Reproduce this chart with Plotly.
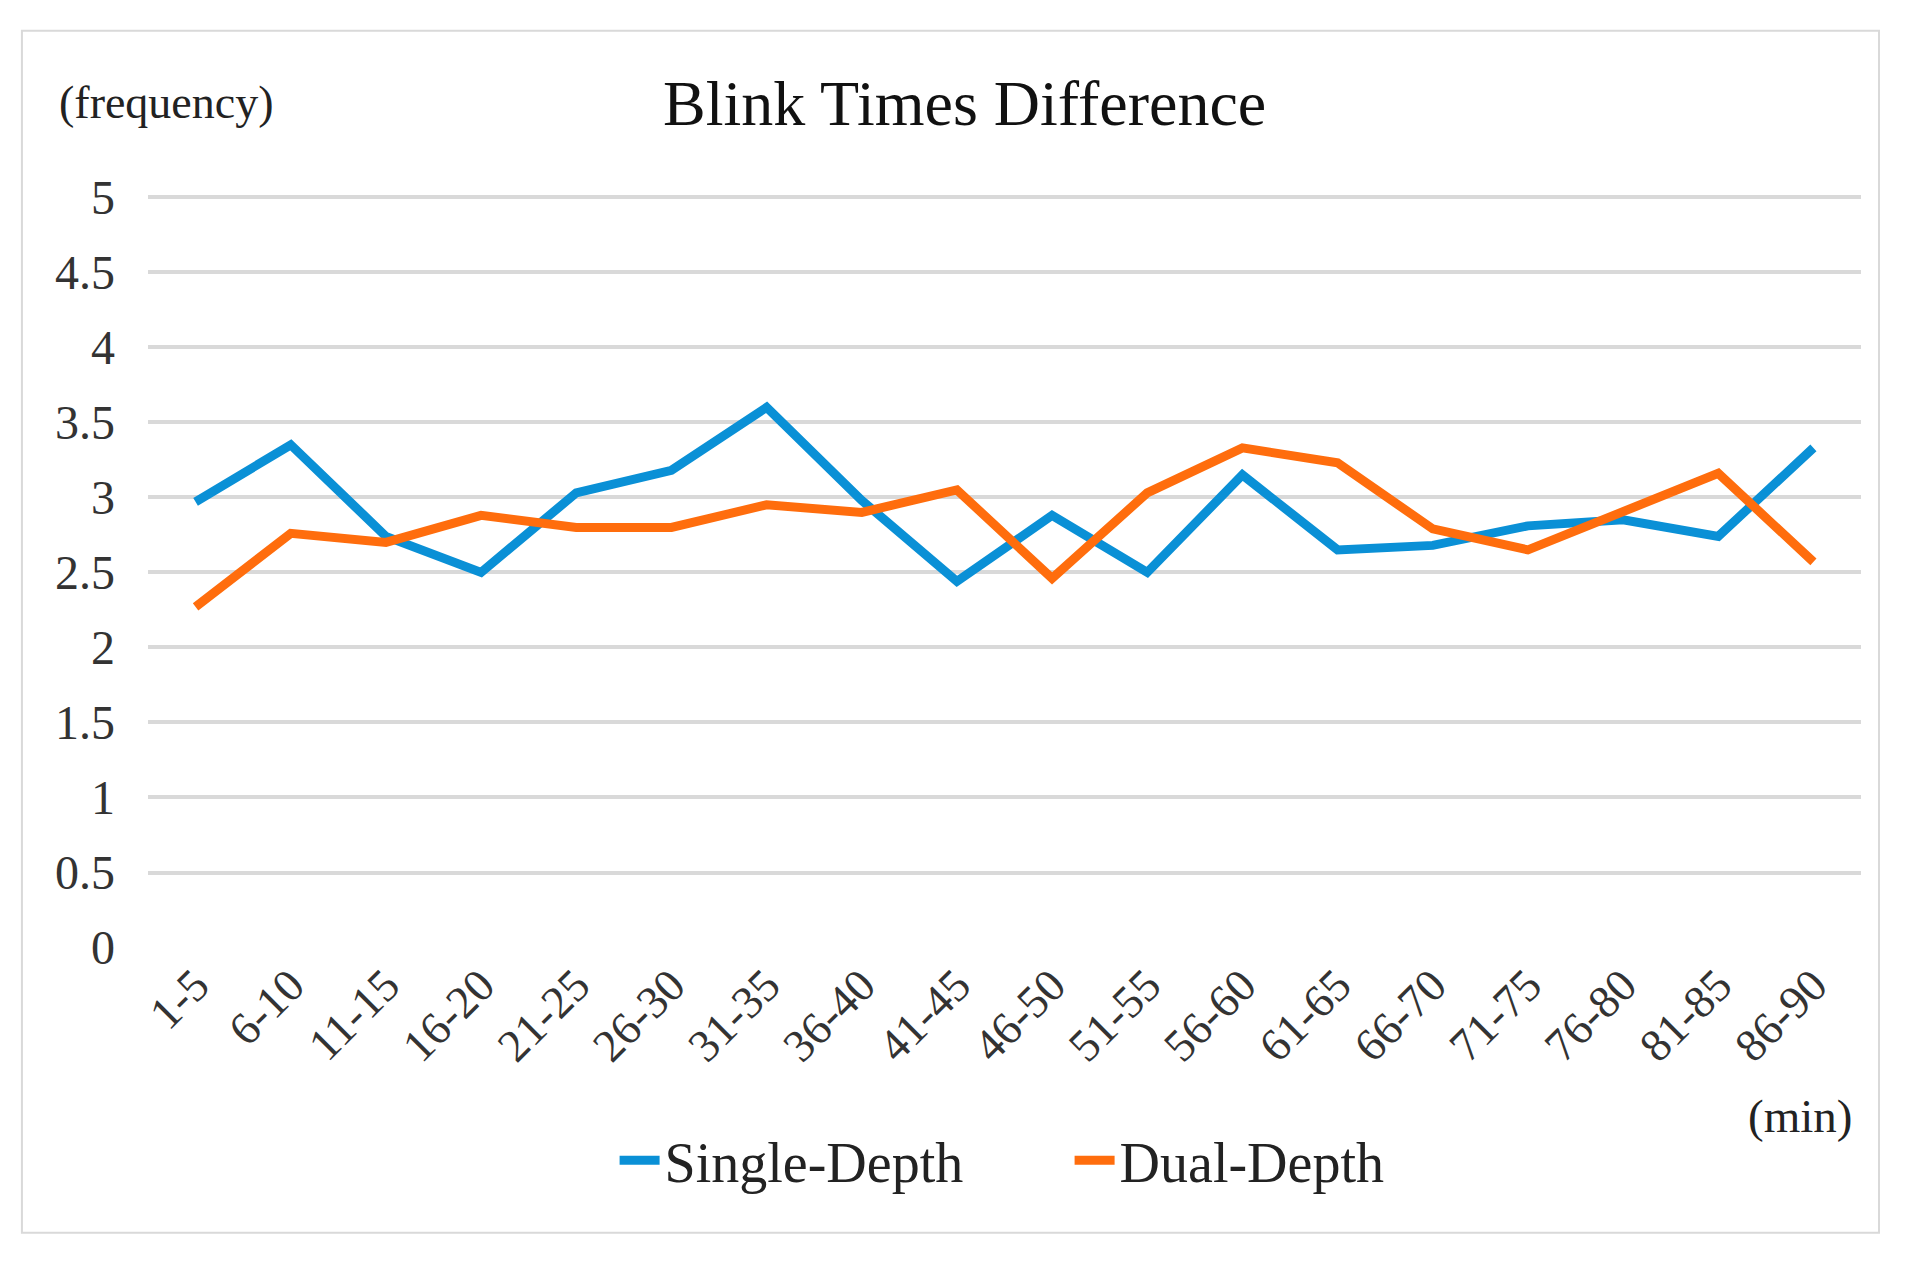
import plotly.graph_objects as go

categories = ["1-5", "6-10", "11-15", "16-20", "21-25", "26-30", "31-35", "36-40", "41-45",
              "46-50", "51-55", "56-60", "61-65", "66-70", "71-75", "76-80", "81-85", "86-90"]
single_depth = [2.97, 3.35, 2.74, 2.50, 3.03, 3.18, 3.60, 2.98, 2.44,
                2.88, 2.50, 3.15, 2.65, 2.68, 2.81, 2.85, 2.74, 3.33]
dual_depth = [2.27, 2.76, 2.70, 2.88, 2.80, 2.80, 2.95, 2.90, 3.05,
              2.46, 3.03, 3.33, 3.23, 2.79, 2.65, 2.90, 3.16, 2.57]
y_ticks = [0, 0.5, 1, 1.5, 2, 2.5, 3, 3.5, 4, 4.5, 5]
y_tick_labels = ["0", "0.5", "1", "1.5", "2", "2.5", "3", "3.5", "4", "4.5", "5"]

FONT = "Liberation Serif, Times New Roman, serif"
BLUE = "#0A90D6"
ORANGE = "#FF6D0D"

fig = go.Figure()
fig.add_trace(go.Scatter(x=categories, y=single_depth, mode="lines", name="Single-Depth",
                         line=dict(color=BLUE, width=9)))
fig.add_trace(go.Scatter(x=categories, y=dual_depth, mode="lines", name="Dual-Depth",
                         line=dict(color=ORANGE, width=9)))

fig.update_layout(
    width=1926, height=1261,
    margin=dict(l=140, r=73, t=187, b=321),
    paper_bgcolor="white", plot_bgcolor="white",
    font=dict(family=FONT, color="#222222"),
    showlegend=True,
    legend=dict(orientation="h", x=0.538, xanchor="center", y=-0.282, yanchor="middle",
                font=dict(family=FONT, size=56, color="#222222"), itemwidth=40,
                entrywidth=400, entrywidthmode="pixels",
                bgcolor="rgba(0,0,0,0)"),
    xaxis=dict(type="category", range=[-0.5, 17.5], showgrid=False, zeroline=False,
               showline=False, tickangle=-45, tickfont=dict(family=FONT, size=46, color="#333333"),
               ticks="", fixedrange=True),
    yaxis=dict(range=[-0.003, 5.015], tickvals=y_ticks, ticktext=y_tick_labels, showgrid=True,
               gridcolor="#D9D9D9", gridwidth=4, zeroline=False, showline=False,
               tickfont=dict(family=FONT, size=48, color="#333333"), ticks="",
               ticklabelstandoff=32, fixedrange=True),
    shapes=[dict(type="rect", xref="paper", yref="paper", x0=-0.0736, x1=1.0105,
                 y0=-0.378, y1=1.218, line=dict(color="#D9D9D9", width=2), layer="below")],
    annotations=[
        dict(text="Blink Times Difference", xref="paper", yref="paper", x=0.4767, y=1.121,
             showarrow=False, xanchor="center", yanchor="middle",
             font=dict(family=FONT, size=64, color="#111111")),
        dict(text="(frequency)", xref="paper", yref="paper", x=0.011, y=1.1235,
             showarrow=False, xanchor="center", yanchor="middle",
             font=dict(family=FONT, size=46, color="#222222")),
        dict(text="(min)", xref="paper", yref="paper", x=0.9644, y=-0.2237,
             showarrow=False, xanchor="center", yanchor="middle",
             font=dict(family=FONT, size=47, color="#222222")),
    ],
)

fig.write_html("out.html")
